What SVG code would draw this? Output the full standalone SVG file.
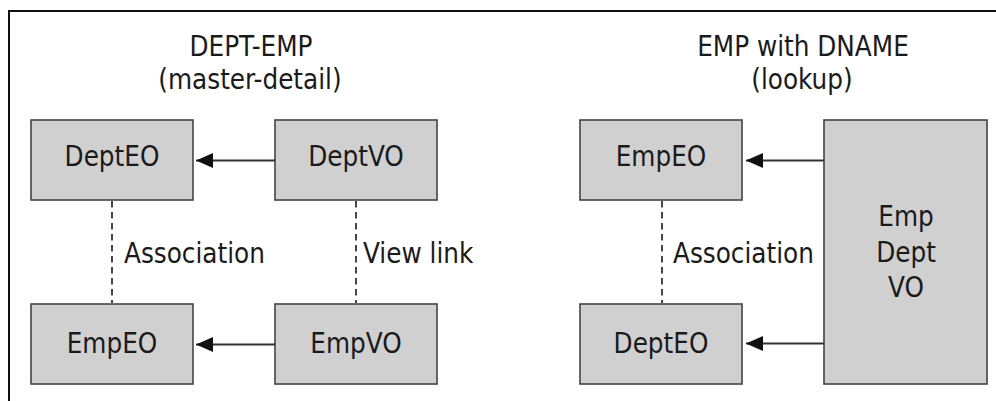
<svg xmlns="http://www.w3.org/2000/svg" width="996" height="401" viewBox="0 0 996 401">
<defs>
<style>
.t{font-family:"DejaVu Sans Condensed","DejaVu Sans","Liberation Sans",sans-serif;font-stretch:condensed;font-size:27.5px;fill:#1a1a1a}
.c{text-anchor:middle}
.box{fill:#d0d0d0;stroke:#444;stroke-width:1.6}
.arr{stroke:#333;stroke-width:2;fill:none}
.dash{stroke:#333;stroke-width:1.8;stroke-dasharray:6.5 4.5;fill:none}
</style>
<marker id="ah" markerUnits="userSpaceOnUse" markerWidth="18" markerHeight="18" viewBox="0 0 18 18" refX="17" refY="9" orient="auto">
<path d="M0,1.5 L17,9 L0,16.5 Z" fill="#111"/>
</marker>
</defs>
<rect width="996" height="401" fill="#fff"/>
<path d="M9,401 V11 H996" stroke="#111" stroke-width="2" fill="none"/>

<g id="titles">
<text class="t c" x="251" y="56">DEPT-EMP</text>
<text class="t c" x="250" y="89">(master-detail)</text>
<text class="t c" x="803" y="56">EMP with DNAME</text>
<text class="t c" x="802" y="89">(lookup)</text>
</g>

<g id="dept-eo-left">
<rect class="box" x="31" y="120" width="162" height="80"/>
<text class="t c" x="112" y="166">DeptEO</text>
</g>
<g id="dept-vo">
<rect class="box" x="275" y="120" width="162" height="80"/>
<text class="t c" x="356" y="166">DeptVO</text>
</g>
<g id="emp-eo-left">
<rect class="box" x="31" y="304" width="162" height="80"/>
<text class="t c" x="112" y="353">EmpEO</text>
</g>
<g id="emp-vo">
<rect class="box" x="275" y="304" width="162" height="80"/>
<text class="t c" x="356" y="353">EmpVO</text>
</g>
<g id="emp-eo-right">
<rect class="box" x="580" y="120" width="162" height="80"/>
<text class="t c" x="661" y="166">EmpEO</text>
</g>
<g id="dept-eo-right">
<rect class="box" x="580" y="304" width="162" height="80"/>
<text class="t c" x="661" y="353">DeptEO</text>
</g>
<g id="emp-dept-vo">
<rect class="box" x="824" y="120" width="163" height="264"/>
<text class="t c" x="906" y="226">Emp</text>
<text class="t c" x="906" y="262">Dept</text>
<text class="t c" x="906" y="297">VO</text>
</g>

<g id="connectors">
<line class="arr" x1="275" y1="160.5" x2="196" y2="160.5" marker-end="url(#ah)"/>
<line class="arr" x1="275" y1="344.5" x2="196" y2="344.5" marker-end="url(#ah)"/>
<line class="arr" x1="824" y1="160.5" x2="746" y2="160.5" marker-end="url(#ah)"/>
<line class="arr" x1="824" y1="343.5" x2="746" y2="343.5" marker-end="url(#ah)"/>
<line class="dash" x1="112" y1="201" x2="112" y2="303"/>
<line class="dash" x1="356" y1="201" x2="356" y2="303"/>
<line class="dash" x1="662" y1="201" x2="662" y2="303"/>
<text class="t" x="124" y="263">Association</text>
<text class="t" x="363" y="263">View link</text>
<text class="t" x="673" y="263">Association</text>
</g>
</svg>
